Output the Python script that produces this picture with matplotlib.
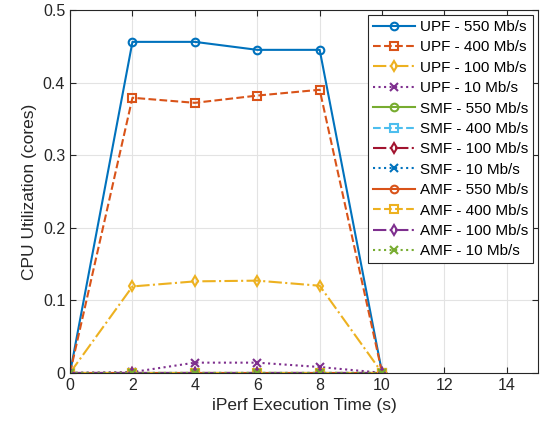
import matplotlib
matplotlib.use("Agg")
import matplotlib.pyplot as plt

plt.rcParams["font.family"] = ["Liberation Sans", "DejaVu Sans"]

t = [0, 2, 4, 6, 8, 10]
upf_550 = [0, 0.456, 0.456, 0.445, 0.445, 0]
upf_400 = [0, 0.379, 0.372, 0.382, 0.390, 0]
upf_100 = [0, 0.119, 0.126, 0.127, 0.120, 0]
upf_10 = [0, 0.001, 0.014, 0.014, 0.008, 0]
smf_550 = [0, 0, 0, 0, 0, 0]
smf_400 = [0, 0, 0, 0, 0, 0]
smf_100 = [0, 0, 0, 0, 0, 0]
smf_10 = [0, 0, 0, 0, 0, 0]
amf_550 = [0, 0, 0, 0, 0, 0]
amf_400 = [0, 0, 0, 0, 0, 0]
amf_100 = [0, 0, 0, 0, 0, 0]
amf_10 = [0, 0, 0, 0, 0, 0]

series = [
    ("UPF - 550 Mb/s", upf_550, "#0072BD", "-", "o"),
    ("UPF - 400 Mb/s", upf_400, "#D95319", "--", "s"),
    ("UPF - 100 Mb/s", upf_100, "#EDB120", "-.", "d"),
    ("UPF - 10 Mb/s", upf_10, "#7E2F8E", ":", "x"),
    ("SMF - 550 Mb/s", smf_550, "#77AC30", "-", "o"),
    ("SMF - 400 Mb/s", smf_400, "#4DBEEE", "--", "s"),
    ("SMF - 100 Mb/s", smf_100, "#A2142F", "-.", "d"),
    ("SMF - 10 Mb/s", smf_10, "#0072BD", ":", "x"),
    ("AMF - 550 Mb/s", amf_550, "#D95319", "-", "o"),
    ("AMF - 400 Mb/s", amf_400, "#EDB120", "--", "s"),
    ("AMF - 100 Mb/s", amf_100, "#7E2F8E", "-.", "d"),
    ("AMF - 10 Mb/s", amf_10, "#77AC30", ":", "x"),
]

fig = plt.figure(figsize=(5.43, 4.32), dpi=100)
ax = fig.add_axes([0.129, 0.137, 0.862, 0.840])
for label, y, c, ls, m in series:
    ax.plot(t, y, color=c, ls=ls, marker=m, lw=1.5, ms=5.5,
            mfc="none", mew=1.5, label=label)

ax.set_xlim(0, 15)
ax.set_ylim(0, 0.5)
ax.set_xticks(range(0, 15, 2))
ax.set_yticks([0, 0.1, 0.2, 0.3, 0.4, 0.5])
ax.set_yticklabels(["0", "0.1", "0.2", "0.3", "0.4", "0.5"])
ax.grid(True, color="#e3e3e3", lw=0.8)
ax.set_axisbelow(True)
for s in ax.spines.values():
    s.set_color("#262626")
    s.set_linewidth(0.8)
ax.tick_params(labelsize=11.5, colors="#262626", direction="in", length=4,
               top=True, right=True)
ax.set_xlabel("iPerf Execution Time (s)", fontsize=12.5, color="#262626")
ax.set_ylabel("CPU Utilization (cores)", fontsize=12.5, color="#262626")

leg = ax.legend(loc="upper right", fontsize=11, frameon=True, fancybox=False,
                edgecolor="#262626", framealpha=1, handlelength=2.75,
                labelspacing=0.42, borderpad=0.3, handletextpad=0.35,
                borderaxespad=0.35)
leg.get_frame().set_linewidth(0.8)

fig.savefig("out.png", dpi=100)
